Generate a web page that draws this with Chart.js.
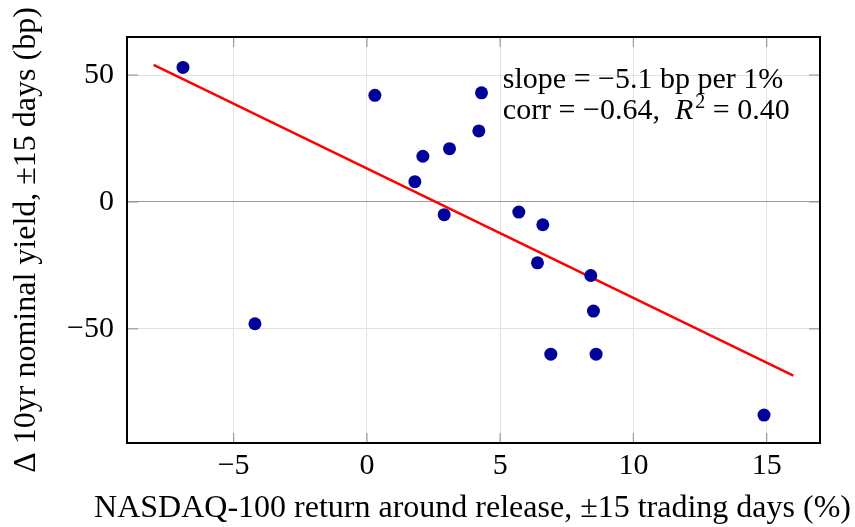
<!DOCTYPE html>
<html><head><meta charset="utf-8">
<script src="https://cdn.jsdelivr.net/npm/chart.js@4.4.1/dist/chart.umd.min.js"></script>
<style>html,body{margin:0;padding:0;background:#fff}#wrap{width:855px;height:527px}</style>
</head><body><div id="wrap"><canvas id="c" width="855" height="527"></canvas></div>
<script>
const returnsPct = [-6.9, -4.2, 0.3, 1.8, 2.1, 2.9, 3.1, 4.2, 4.3, 5.7, 6.4, 6.6, 6.9, 8.4, 8.5, 8.6, 14.9];
const yieldChangeBp = [53, -48, 42, 8, 18, -5, 21, 28, 43, -4, -24, -9, -60, -29, -43, -60, -84];
const fitX = [-8, 16];
const fitY = [54, -68.4];
const xTicks = [-5, 0, 5, 10, 15];
const yTicks = [-50, 0, 50];
const annotationLines = ["slope = \u22125.1 bp per 1%", "corr = \u22120.64,  R\u00b2 = 0.40"];
const xTitle = "NASDAQ-100 return around release, \u00b115 trading days (%)";
const yTitle = "\u0394 10yr nominal yield, \u00b115 days (bp)";

const FONT = "'Liberation Serif', 'DejaVu Serif', serif";
const FS = 30;
const TFS = 32;
const fmt = v => String(v).replace('-', '\u2212');

const framePlugin = {
  id: 'frame',
  afterDatasetsDraw(chart) {
    const {ctx, chartArea: a, scales} = chart;
    ctx.save();
    ctx.strokeStyle = '#9a9a9a';
    ctx.lineWidth = 1.2;
    xTicks.forEach(v => {
      const px = scales.x.getPixelForValue(v);
      ctx.beginPath(); ctx.moveTo(px, a.bottom); ctx.lineTo(px, a.bottom - 10); ctx.stroke();
      ctx.beginPath(); ctx.moveTo(px, a.top); ctx.lineTo(px, a.top + 10); ctx.stroke();
    });
    yTicks.forEach(v => {
      const py = scales.y.getPixelForValue(v);
      ctx.beginPath(); ctx.moveTo(a.left, py); ctx.lineTo(a.left + 11, py); ctx.stroke();
      ctx.beginPath(); ctx.moveTo(a.right, py); ctx.lineTo(a.right - 11, py); ctx.stroke();
    });
    ctx.strokeStyle = '#000';
    ctx.lineWidth = 2;
    ctx.strokeRect(a.left, a.top, a.right - a.left, a.bottom - a.top);

    ctx.fillStyle = '#000';
    ctx.textBaseline = 'alphabetic';
    // axis titles (drawn at natural width)
    ctx.font = TFS + "px " + FONT;
    ctx.textAlign = 'center';
    ctx.fillText(xTitle, (a.left + a.right) / 2 - 1, a.bottom + 74);
    ctx.save();
    ctx.translate(a.left - 92, (a.top + a.bottom) / 2);
    ctx.rotate(-Math.PI / 2);
    ctx.fillText(yTitle, 0, 0);
    ctx.restore();

    // annotation, anchored in data coordinates
    ctx.textAlign = 'left';
    const ax = scales.x.getPixelForValue(5.1);
    const ay = scales.y.getPixelForValue(44.9);
    ctx.font = FS + "px " + FONT;
    ctx.fillText(annotationLines[0], ax, ay);
    const parts = annotationLines[1].split('R\u00b2');
    let cx = ax; const ly = ay + 31;
    ctx.fillText(parts[0], cx, ly); cx += ctx.measureText(parts[0]).width;
    ctx.font = "italic " + FS + "px " + FONT;
    ctx.fillText('R', cx, ly); cx += ctx.measureText('R').width + 2;
    ctx.font = "20px " + FONT;
    ctx.fillText('2', cx, ly - 11); cx += ctx.measureText('2').width;
    ctx.font = FS + "px " + FONT;
    ctx.fillText(parts[1], cx, ly);
    ctx.restore();
  }
};

new Chart(document.getElementById('c'), {
  type: 'scatter',
  data: {
    datasets: [
      {
        type: 'line',
        data: fitX.map((x, i) => ({x, y: fitY[i]})),
        borderColor: '#ff0000',
        borderWidth: 2.5,
        pointRadius: 0,
        fill: false,
        order: 2
      },
      {
        data: returnsPct.map((x, i) => ({x, y: yieldChangeBp[i]})),
        backgroundColor: '#00009b',
        borderColor: '#00009b',
        pointRadius: 6.5,
        pointHoverRadius: 6.5,
        borderWidth: 0,
        order: 1
      }
    ]
  },
  options: {
    responsive: false,
    animation: false,
    events: [],
    layout: {padding: {left: 0, top: 37, right: 35, bottom: 0}},
    plugins: {legend: {display: false}, tooltip: {enabled: false}},
    scales: {
      x: {
        type: 'linear', min: -9, max: 17,
        afterBuildTicks: s => { s.ticks = xTicks.map(v => ({value: v})); },
        afterFit: s => { s.height = 84; },
        grid: {color: '#e2e2e2', lineWidth: 1, drawTicks: false},
        border: {display: false},
        ticks: {callback: fmt, color: '#000', font: {family: FONT, size: FS}, padding: 5, maxRotation: 0},
        title: {display: false, text: xTitle}
      },
      y: {
        type: 'linear', min: -95, max: 65,
        afterBuildTicks: s => { s.ticks = yTicks.map(v => ({value: v})); },
        afterFit: s => { s.width = 127; },
        grid: {color: ctx => ctx.tick && ctx.tick.value === 0 ? '#9a9a9a' : '#e2e2e2', lineWidth: 1, drawTicks: false},
        border: {display: false},
        ticks: {callback: fmt, color: '#000', font: {family: FONT, size: FS}, padding: 13},
        title: {display: false, text: yTitle}
      }
    }
  },
  plugins: [framePlugin]
});
</script>
</body></html>
